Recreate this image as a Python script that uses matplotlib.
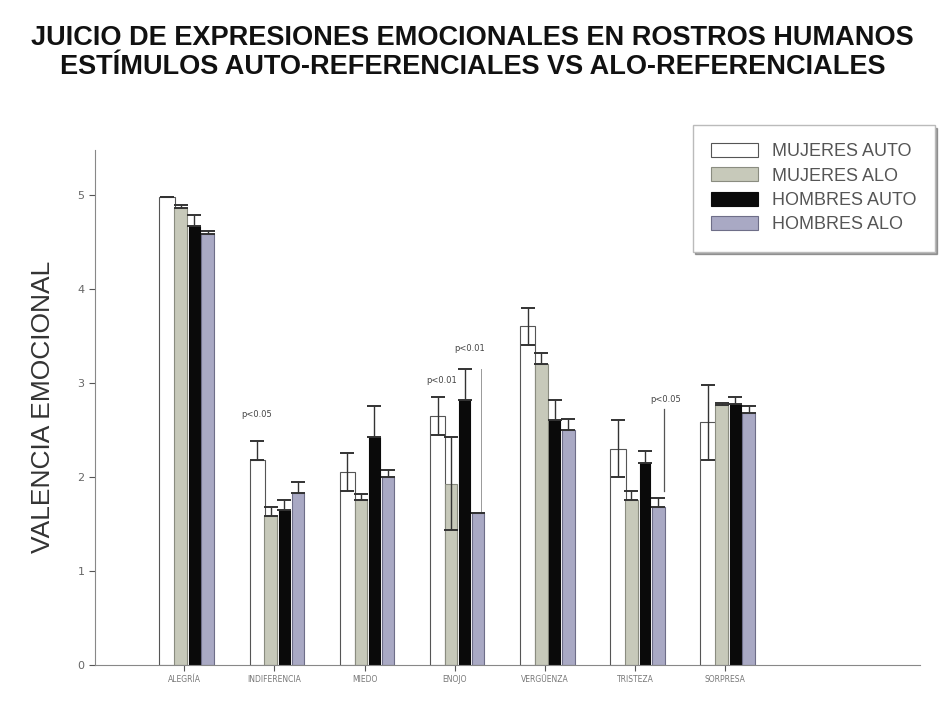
import matplotlib
matplotlib.use("Agg")
import matplotlib.pyplot as plt
import numpy as np

# Emotion categories and group labels
categories = ["ALEGRÍA", "INDIFERENCIA", "MIEDO", "ENOJO", "VERGÜENZA", "TRISTEZA", "SORPRESA"]
series = ["MUJERES AUTO", "MUJERES ALO", "HOMBRES AUTO", "HOMBRES ALO"]

# Mean emotional valence per group
mujeres_auto = [4.98, 2.18, 2.05, 2.65, 3.60, 2.30, 2.58]
mujeres_alo = [4.86, 1.58, 1.75, 1.92, 3.20, 1.75, 2.76]
hombres_auto = [4.67, 1.65, 2.42, 2.82, 2.60, 2.15, 2.78]
hombres_alo = [4.58, 1.83, 2.00, 1.62, 2.50, 1.68, 2.68]

# Error bar extents (below, above)
err_mujeres_auto = ([0.00, 0.00, 0.20, 0.20, 0.20, 0.30, 0.40], [0.00, 0.20, 0.20, 0.20, 0.20, 0.30, 0.40])
err_mujeres_alo = ([0.00, 0.00, 0.00, 0.48, 0.00, 0.00, 0.00], [0.03, 0.10, 0.07, 0.50, 0.12, 0.10, 0.03])
err_hombres_auto = ([0.00, 0.00, 0.00, 0.00, 0.00, 0.00, 0.00], [0.12, 0.10, 0.33, 0.33, 0.22, 0.13, 0.07])
err_hombres_alo = ([0.00, 0.00, 0.00, 0.00, 0.00, 0.00, 0.00], [0.04, 0.12, 0.07, 0.00, 0.12, 0.10, 0.07])

yticks = [0, 1, 2, 3, 4, 5]

values = [mujeres_auto, mujeres_alo, hombres_auto, hombres_alo]
errors = [err_mujeres_auto, err_mujeres_alo, err_hombres_auto, err_hombres_alo]
facecolors = ["#ffffff", "#c7c9ba", "#0a0a0a", "#a9a9c4"]
edgecolors = ["#555555", "#8a8c80", "#0a0a0a", "#6e6e88"]
offsets = [-0.19, -0.04, 0.11, 0.26]
widths = [0.17, 0.14, 0.12, 0.14]

fig = plt.figure(figsize=(9.45, 7.04), dpi=100)
ax = fig.add_axes([0.1005, 0.0554, 0.873, 0.732])

x = np.arange(len(categories))
for vals, err, fc, ec, off, w, name in zip(values, errors, facecolors, edgecolors, offsets, widths, series):
    ax.bar(x + off, vals, width=w, color=fc, edgecolor=ec, linewidth=0.8, label=name, zorder=2)
    ax.errorbar(x + off, vals, yerr=np.array(err), fmt="none", ecolor="#333333",
                elinewidth=1.0, capsize=5, capthick=1.4, zorder=3)

# Significance notes
notes = [(1 - 0.2, 2.62, "p<0.05"), (3 - 0.14, 2.98, "p<0.01"),
         (3 + 0.16, 3.32, "p<0.01"), (5 + 0.34, 2.78, "p<0.05")]
for nx, ny, txt in notes:
    ax.text(nx, ny, txt, fontsize=6, color="#444444", ha="center", va="bottom")
ax.plot([3 + 0.29, 3 + 0.29], [1.62, 3.15], color="#999999", lw=0.7, zorder=1)
ax.plot([5 + 0.32, 5 + 0.32], [1.85, 2.72], color="#555555", lw=0.9, zorder=1)

ax.set_xlim(-0.99, 8.16)
ax.set_ylim(0, 5.48)
ax.set_xticks(x)
ax.set_xticklabels(categories, fontsize=5.5, color="#777777")
ax.set_yticks(yticks)
ax.set_yticklabels([str(t) for t in yticks], fontsize=8, color="#666666")
ax.tick_params(axis="both", length=4, color="#555555", width=0.8)
for side in ["top", "right"]:
    ax.spines[side].set_visible(False)
for side in ["left", "bottom"]:
    ax.spines[side].set_color("#888888")
    ax.spines[side].set_linewidth(0.8)

ax.set_ylabel("VALENCIA EMOCIONAL", fontsize=19, color="#333333",
              fontfamily="Liberation Sans", labelpad=16)

leg = fig.legend(loc="upper left", bbox_to_anchor=(0.733, 0.8224), frameon=True,
                 fancybox=False, shadow=True, handlelength=2.6, borderaxespad=0.0,
                 handleheight=0.8, borderpad=1.0, labelspacing=0.4, handletextpad=0.8,
                 prop={"family": "Liberation Sans", "size": 13})
leg.get_frame().set_edgecolor("#bbbbbb")
for t in leg.get_texts():
    t.set_color("#555555")

fig.text(0.5, 0.925, "JUICIO DE EXPRESIONES EMOCIONALES EN ROSTROS HUMANOS\n"
         "ESTÍMULOS AUTO-REFERENCIALES VS ALO-REFERENCIALES",
         ha="center", va="center", fontsize=19.5, fontweight="bold",
         fontfamily="Liberation Sans", linespacing=1.15, color="#111111")

fig.savefig("out.png", dpi=100)
